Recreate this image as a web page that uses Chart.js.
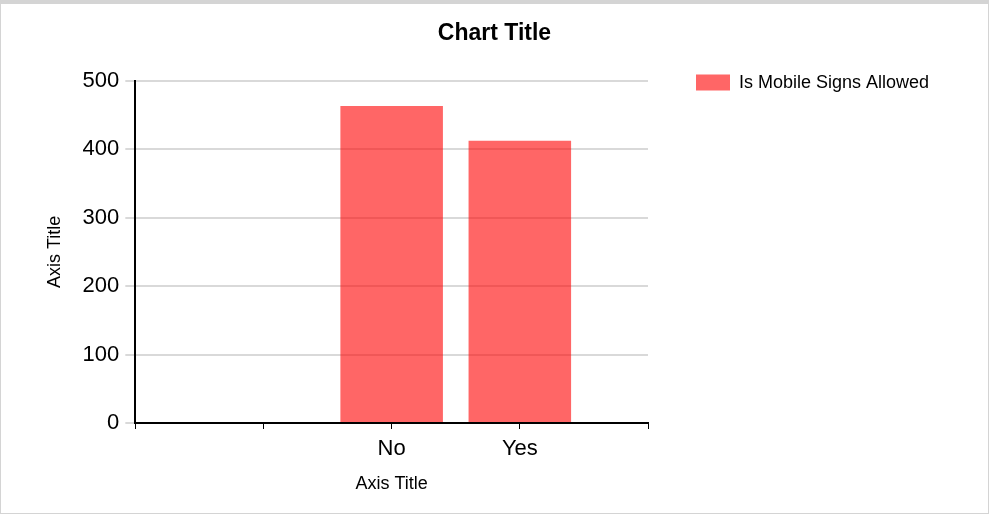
<!DOCTYPE html>
<html>
<head>
<meta charset="utf-8">
<script src="https://cdn.jsdelivr.net/npm/chart.js@4/dist/chart.umd.min.js"></script>
<style>
  html, body { margin: 0; padding: 0; background: #fff; }
  #wrap { width: 989px; height: 514px; box-sizing: border-box; border: 1px solid #d4d4d4; border-top: 4px solid #d4d4d4; background: #fff; }
  canvas { display: block; }
</style>
</head>
<body>
<div id="wrap"><canvas id="c" width="987" height="509"></canvas></div>
<script>
const categories = ['', '', 'No', 'Yes', ''];
const seriesName = 'Is Mobile Signs Allowed';
const seriesValues = [null, null, 463, 412, null];
const yTicks = [0, 100, 200, 300, 400, 500];

const FONT = "'Liberation Sans', Arial, sans-serif";

// Places the title across the full width and the legend just right of the plot area.
const layoutTweak = {
  id: 'layoutTweak',
  afterLayout(chart) {
    const t = chart.titleBlock;
    if (t) { t.left = 0; t.right = chart.width; t.width = chart.width; }
    const lg = chart.legend;
    const ca = chart.chartArea;
    if (lg && ca) {
      lg.left = ca.right + 38;
      lg.right = chart.width;
      lg.width = lg.right - lg.left;
      lg.top = ca.top - 17;
      lg.bottom = chart.height;
      lg.height = lg.bottom - lg.top;
    }
  }
};

new Chart(document.getElementById('c'), {
  type: 'bar',
  data: {
    labels: categories,
    datasets: [{
      label: seriesName,
      data: seriesValues,
      backgroundColor: 'rgba(255,0,0,0.6)',
      borderWidth: 0,
      categoryPercentage: 0.8,
      barPercentage: 1.0
    }]
  },
  plugins: [layoutTweak],
  options: {
    responsive: false,
    animation: false,
    layout: { padding: { left: 10, right: 0, top: 0, bottom: 14 } },
    plugins: {
      title: {
        display: true,
        text: 'Chart Title',
        color: '#000',
        font: { family: FONT, size: 23, weight: 'bold' },
        padding: { top: 16, bottom: 33 }
      },
      legend: {
        position: 'right',
        align: 'start',
        maxWidth: 100,
        labels: {
          boxWidth: 34,
          boxHeight: 16,
          padding: 10,
          color: '#000',
          font: { family: FONT, size: 18 }
        }
      },
      tooltip: { enabled: false }
    },
    scales: {
      x: {
        type: 'category',
        offset: false,
        grid: { drawOnChartArea: false, drawTicks: true, tickLength: 6, color: '#000', lineWidth: 1, offset: false },
        border: { display: true, color: '#000', width: 2 },
        ticks: { color: '#000', font: { family: FONT, size: 22 }, padding: 7, maxRotation: 0, autoSkip: false },
        title: { display: true, text: 'Axis Title', color: '#000', font: { family: FONT, size: 18 }, padding: { top: 4, bottom: 4 } }
      },
      y: {
        min: yTicks[0],
        max: yTicks[yTicks.length - 1],
        afterBuildTicks: s => { s.ticks = yTicks.map(v => ({ value: v })); },
        grid: { color: '#d9d9d9', lineWidth: 2, tickLength: 10 },
        border: { display: true, color: '#000', width: 2 },
        ticks: { color: '#000', font: { family: FONT, size: 22 }, padding: 6 },
        title: { display: true, text: 'Axis Title', color: '#000', font: { family: FONT, size: 18 }, padding: { top: 33, bottom: 11 } }
      },
      spacer: {
        type: 'linear',
        position: 'right',
        display: true,
        grid: { display: false, drawTicks: false },
        border: { display: false },
        ticks: { display: false },
        afterFit: s => { s.width = 240; }
      }
    }
  }
});
</script>
</body>
</html>
